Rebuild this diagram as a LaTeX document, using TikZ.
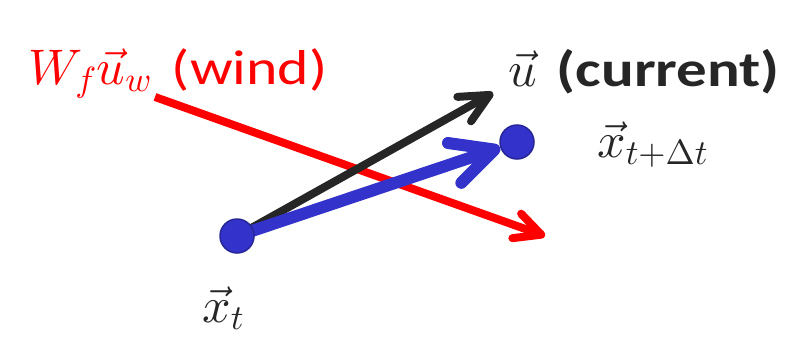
\documentclass[tikz,border=0pt]{standalone}
\usepackage{fontspec}
\DeclareFontShape{OML}{cmm}{m}{it}{<->cmmi10}{}
\DeclareFontShape{OMS}{cmsy}{m}{n}{<->cmsy10}{}
\DeclareFontShape{OT1}{cmr}{m}{n}{<->cmr10}{}
\newfontfamily\labfont[FakeStretch=1.22]{Carlito}
\usetikzlibrary{arrows.meta}
\pgfdeclarelayer{bg}
\pgfsetlayers{bg,main}
\definecolor{dotblue}{RGB}{51,51,204}
\definecolor{dotedge}{RGB}{38,38,150}
\definecolor{darkgray}{RGB}{38,38,38}
\tikzset{
  dot/.style={circle,fill=dotblue,draw=dotedge,line width=1.5pt,minimum size=34pt,inner sep=0pt},
  lab/.style={anchor=base west,inner sep=0pt,font=\fontsize{50}{56}\selectfont},
  windarrow/.style={draw=red,line width=8pt,-{Straight Barb[length=26pt,width=26pt,line cap=round,line join=round]}},
  curarrow/.style={draw=darkgray,line width=8pt,-{Straight Barb[length=29pt,width=28pt,line cap=round,line join=round]}},
  movearrow/.style={draw=dotblue,line width=12pt,-{Straight Barb[length=42pt,width=42pt,line cap=round,line join=round]}},
}
\begin{document}
\begin{tikzpicture}[x=1pt,y=-1pt]
\useasboundingbox (0,0) rectangle (791,343);
\node[dot] (xt) at (237,236) {};
\node[dot] (xn) at (517,142) {};
\coordinate (ws) at (155,97);
\coordinate (we) at (545,236);
\coordinate (ue) at (493,93);
\begin{pgfonlayer}{bg}
\draw[windarrow] (ws) -- (we);
\draw[curarrow] (xt.center) -- (ue);
\draw[movearrow] (xt.center) -- (xn);
\end{pgfonlayer}
\node[lab,text=red] (wind) at (28,84) {$W_f\vec{u}_w$\hspace{20pt}{\labfont\fontsize{49}{56}\selectfont(wind)}};
\node[lab,text=darkgray] (cur) at (508,86) {$\vec{u}$\hspace{20pt}{\labfont\fontsize{50}{56}\selectfont\bfseries(current)}};
\node[lab,text=darkgray] (xnl) at (597,157) {$\vec{x}_{t+\Delta t}$};
\node[lab,text=darkgray] (xtl) at (202,322) {$\vec{x}_t$};
\end{tikzpicture}
\end{document}
